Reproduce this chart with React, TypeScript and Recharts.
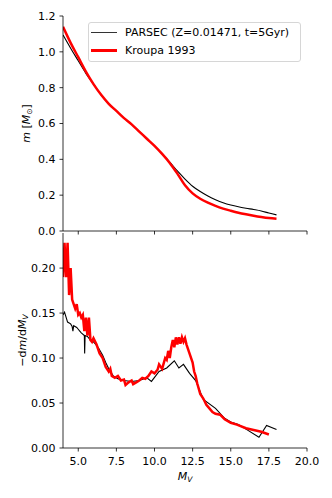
import { Line, LineChart, XAxis, YAxis } from "recharts";

const FONT = "'DejaVu Sans', sans-serif";

const magTicks = [5, 7.5, 10, 12.5, 15, 17.5, 20];
const massTicks = [0, 0.2, 0.4, 0.6, 0.8, 1.0, 1.2];
const slopeTicks = [0, 0.05, 0.1, 0.15, 0.2];

// top panel: mass vs absolute magnitude
const parsecMag = [4, 4.5, 5, 5.5, 6, 6.5, 7, 7.5, 8, 8.5, 9, 9.5, 10, 10.5, 11, 11.5, 12, 12.5, 13, 13.5, 14, 14.5, 15, 15.5, 16, 16.5, 17, 17.5, 18];
const parsecMass = [1.094, 1.02, 0.95, 0.88, 0.82, 0.76, 0.71, 0.67, 0.63, 0.595, 0.555, 0.515, 0.475, 0.43, 0.385, 0.335, 0.29, 0.25, 0.22, 0.195, 0.175, 0.158, 0.145, 0.135, 0.127, 0.12, 0.112, 0.1, 0.09];
const kroupaMag = [4, 4.5, 5, 5.5, 6, 6.5, 7, 7.5, 8, 8.5, 9, 9.5, 10, 10.5, 11, 11.5, 12, 12.5, 13, 13.5, 14, 14.5, 15, 15.5, 16, 16.5, 17, 17.5, 18];
const kroupaMass = [1.14, 1.05, 0.97, 0.89, 0.82, 0.76, 0.71, 0.67, 0.63, 0.595, 0.555, 0.515, 0.475, 0.43, 0.38, 0.32, 0.255, 0.21, 0.18, 0.158, 0.14, 0.125, 0.113, 0.102, 0.093, 0.085, 0.078, 0.072, 0.068];

// bottom panel: -dm/dMV
const parsecSlopeMag = [4, 4.1, 4.3, 4.5, 4.6, 4.65, 4.7, 4.9, 5, 5.1, 5.2, 5.4, 5.42, 5.45, 5.6, 5.8, 6, 6.3, 6.6, 6.8, 7, 7.3, 7.6, 8, 8.5, 9, 9.5, 9.8, 10.3, 10.8, 11.3, 11.6, 11.9, 12.3, 12.7, 13.2, 14, 14.6, 15, 15.5, 16, 16.85, 17.35, 18];
const parsecSlope = [0.148, 0.151, 0.14, 0.138, 0.135, 0.13, 0.136, 0.134, 0.132, 0.13, 0.128, 0.125, 0.105, 0.125, 0.124, 0.12, 0.118, 0.112, 0.103, 0.095, 0.088, 0.08, 0.077, 0.075, 0.074, 0.075, 0.078, 0.074, 0.085, 0.089, 0.097, 0.089, 0.093, 0.083, 0.075, 0.054, 0.044, 0.033, 0.029, 0.026, 0.021, 0.012, 0.025, 0.0205];
const kroupaSlopeMag = [4, 4.1, 4.2, 4.3, 4.4, 4.5, 4.6, 4.7, 4.8, 4.9, 5, 5.1, 5.2, 5.3, 5.4, 5.5, 5.6, 5.7, 5.8, 5.9, 6, 6.2, 6.4, 6.6, 6.8, 7, 7.1, 7.2, 7.4, 7.6, 7.8, 8, 8.1, 8.3, 8.5, 8.6, 8.8, 9, 9.2, 9.4, 9.6, 9.8, 10, 10.2, 10.3, 10.5, 10.7, 10.8, 10.9, 11, 11.1, 11.2, 11.3, 11.4, 11.5, 11.6, 11.7, 11.8, 11.9, 12, 12.1, 12.3, 12.5, 12.6, 12.7, 12.8, 13, 13.2, 13.4, 13.6, 13.8, 14, 14.3, 14.6, 15, 15.4, 16, 16.5, 17, 17.5];
const kroupaSlope = [0.19, 0.228, 0.19, 0.228, 0.17, 0.2, 0.165, 0.16, 0.155, 0.16, 0.148, 0.15, 0.145, 0.148, 0.13, 0.145, 0.125, 0.145, 0.12, 0.118, 0.122, 0.115, 0.105, 0.1, 0.09, 0.085, 0.088, 0.08, 0.078, 0.08, 0.075, 0.076, 0.07, 0.073, 0.075, 0.071, 0.073, 0.075, 0.078, 0.077, 0.08, 0.085, 0.083, 0.087, 0.093, 0.088, 0.1, 0.098, 0.108, 0.1, 0.112, 0.12, 0.112, 0.123, 0.115, 0.123, 0.116, 0.123, 0.118, 0.122, 0.115, 0.105, 0.095, 0.085, 0.08, 0.072, 0.06, 0.055, 0.048, 0.044, 0.04, 0.038, 0.037, 0.032, 0.028, 0.026, 0.022, 0.02, 0.018, 0.015];

const toPoints = (xs: number[], ys: number[]) => xs.map((x, i) => ({ x, y: ys[i] }));

const tickStyle = { fill: "#000", fontSize: 11, fontFamily: FONT };
const axisStroke = { stroke: "#000", strokeWidth: 0.8 };

function YLabel(props: any) {
  const { viewBox, kind } = props;
  const cx = viewBox.x + (kind === "mass" ? 26 : 22);
  const cy = viewBox.y + viewBox.height / 2;
  return (
    <text x={cx} y={cy} dy={4} transform={`rotate(-90 ${cx} ${cy})`} textAnchor="middle" fontSize={11} fontFamily={FONT} fill="#000">
      {kind === "mass" ? (
        <>
          <tspan fontStyle="italic">m</tspan>
          <tspan> [</tspan>
          <tspan fontStyle="italic">M</tspan>
          <tspan fontSize={7.5} dy={2}>⊙</tspan>
          <tspan dy={-2}>]</tspan>
        </>
      ) : (
        <>
          <tspan>−d</tspan>
          <tspan fontStyle="italic">m</tspan>
          <tspan>/d</tspan>
          <tspan fontStyle="italic">M</tspan>
          <tspan fontStyle="italic" fontSize={7.5} dy={2}>V</tspan>
        </>
      )}
    </text>
  );
}

function XLabel(props: any) {
  const { viewBox } = props;
  const cx = viewBox.x + viewBox.width / 2;
  return (
    <text x={cx} y={viewBox.y + 32} textAnchor="middle" fontSize={11} fontFamily={FONT} fill="#000">
      <tspan fontStyle="italic">M</tspan>
      <tspan fontStyle="italic" fontSize={7.5} dy={2}>V</tspan>
    </text>
  );
}

function PlotLegend() {
  const row = (color: string, width: number, text: string) => (
    <div style={{ display: "flex", alignItems: "center", height: 17.5 }}>
      <div style={{ width: 26, height: width, background: color, marginRight: 8 }} />
      <span style={{ whiteSpace: "nowrap" }}>{text}</span>
    </div>
  );
  return (
    <div
      style={{
        position: "absolute",
        left: 88,
        top: 22,
        width: 213,
        boxSizing: "border-box",
        padding: "1px 3px 2px 2px",
        border: "1px solid #d6d6d6",
        borderRadius: 3,
        background: "rgba(255,255,255,0.8)",
        fontFamily: FONT,
        fontSize: 11,
        color: "#000",
      }}
    >
      {row("#333", 1.3, "PARSEC (Z=0.01471, t=5Gyr)")}
      {row("#ff0000", 2.5, "Kroupa 1993")}
    </div>
  );
}

export default function App() {
  return (
    <div style={{ position: "absolute", left: 0, top: 0, width: 332, height: 498, background: "#fff" }}>
      <div style={{ position: "absolute", left: 0, top: 0 }}>
        <LineChart width={332} height={498} margin={{ top: 233, right: 25, bottom: 0, left: 0 }}>
          <XAxis
            xAxisId="b"
            dataKey="x"
            type="number"
            domain={[4, 20]}
            ticks={magTicks}
            interval={0}
            tickFormatter={(v: number) => v.toFixed(1)}
            tick={tickStyle}
            tickSize={3.5}
            tickMargin={6}
            axisLine={axisStroke}
            tickLine={axisStroke}
            height={50}
            allowDataOverflow
            label={<XLabel />}
          />
          <XAxis xAxisId="t" type="number" domain={[4, 20]} orientation="top" height={0} tick={false} tickLine={false} axisLine={axisStroke} />
          <YAxis
            yAxisId="l"
            type="number"
            domain={[0, 0.239]}
            ticks={slopeTicks}
            interval={0}
            tickFormatter={(v: number) => v.toFixed(2)}
            tick={tickStyle}
            tickSize={3.5}
            tickMargin={4}
            axisLine={axisStroke}
            tickLine={axisStroke}
            width={63}
            allowDataOverflow
            label={<YLabel kind="slope" />}
          />
          <YAxis yAxisId="r" type="number" domain={[0, 0.239]} orientation="right" width={0} tick={false} tickLine={false} axisLine={axisStroke} />
          <Line xAxisId="b" yAxisId="l" data={toPoints(parsecSlopeMag, parsecSlope)} dataKey="y" type="linear" stroke="#000" strokeWidth={1.1} dot={false} isAnimationActive={false} />
          <Line xAxisId="b" yAxisId="l" data={toPoints(kroupaSlopeMag, kroupaSlope)} dataKey="y" type="linear" stroke="#ff0000" strokeWidth={2.5} dot={false} isAnimationActive={false} />
        </LineChart>
      </div>
      <div style={{ position: "absolute", left: 0, top: 0 }}>
        <LineChart width={332} height={242} margin={{ top: 16, right: 25, bottom: 0, left: 0 }}>
          <XAxis
            xAxisId="b"
            dataKey="x"
            type="number"
            domain={[4, 20]}
            ticks={magTicks}
            interval={0}
            tickFormatter={() => ""}
            tick={tickStyle}
            tickSize={3.5}
            tickMargin={0}
            axisLine={axisStroke}
            tickLine={axisStroke}
            height={11}
            allowDataOverflow
          />
          <XAxis xAxisId="t" type="number" domain={[4, 20]} orientation="top" height={0} tick={false} tickLine={false} axisLine={axisStroke} />
          <YAxis
            yAxisId="l"
            type="number"
            domain={[0, 1.2]}
            ticks={massTicks}
            interval={0}
            tickFormatter={(v: number) => v.toFixed(1)}
            tick={tickStyle}
            tickSize={3.5}
            tickMargin={4}
            axisLine={axisStroke}
            tickLine={axisStroke}
            width={63}
            allowDataOverflow
            label={<YLabel kind="mass" />}
          />
          <YAxis yAxisId="r" type="number" domain={[0, 1.2]} orientation="right" width={0} tick={false} tickLine={false} axisLine={axisStroke} />
          <Line xAxisId="b" yAxisId="l" data={toPoints(parsecMag, parsecMass)} dataKey="y" type="monotone" stroke="#000" strokeWidth={1.1} dot={false} isAnimationActive={false} />
          <Line xAxisId="b" yAxisId="l" data={toPoints(kroupaMag, kroupaMass)} dataKey="y" type="monotone" stroke="#ff0000" strokeWidth={2.5} dot={false} isAnimationActive={false} />
        </LineChart>
        <PlotLegend />
      </div>
    </div>
  );
}
